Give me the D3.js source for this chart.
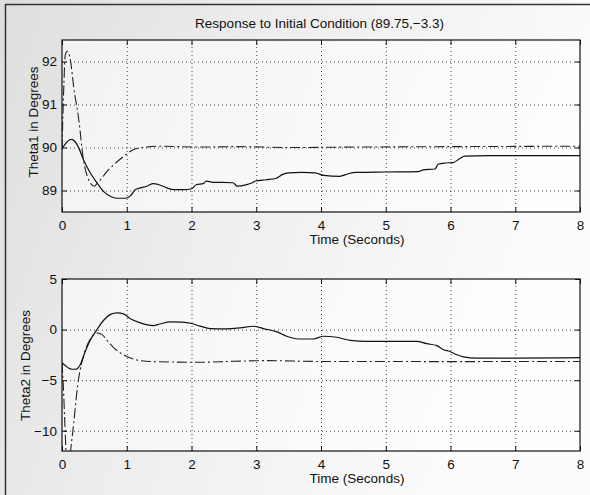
<!DOCTYPE html>
<html>
<head>
<meta charset="utf-8">
<script src="https://cdn.jsdelivr.net/npm/d3@7"></script>
<style>
  html, body { margin: 0; padding: 0; background: #fff; }
  svg { display: block; }
  text { font-family: "Liberation Sans", Arial, Helvetica, sans-serif; fill: #111; }
</style>
</head>
<body>
<svg id="chart" width="590" height="495"></svg>
<script>
// ---------- data ----------
const chartTitle = "Response to Initial Condition (89.75,\u22123.3)";
const xLabel = "Time (Seconds)";
const yLabel1 = "Theta1 in Degrees";
const yLabel2 = "Theta2 in Degrees";

const xTicks = [0, 1, 2, 3, 4, 5, 6, 7, 8];
const yTicks1 = [89, 90, 91, 92];
const yTicks2 = [-10, -5, 0, 5];

// Theta1, solid response
const t1Solid = [0, 0.05, 0.1, 0.15, 0.2, 0.25, 0.33, 0.44, 0.54, 0.64, 0.77, 0.85, 0.98, 1.06, 1.13, 1.21, 1.31, 1.41, 1.49, 1.62, 1.73, 1.88, 2.0, 2.08, 2.18, 2.23, 2.33, 2.48, 2.64, 2.71, 2.84, 2.94, 2.99, 3.15, 3.3, 3.4, 3.5, 3.7, 3.91, 4.04, 4.29, 4.42, 4.55, 5.0, 5.5, 5.58, 5.76, 5.81, 5.92, 6.04, 6.15, 6.22, 6.6, 8.0];
const theta1Solid = [89.97, 90.08, 90.16, 90.19, 90.14, 90.02, 89.72, 89.4, 89.18, 88.98, 88.85, 88.82, 88.82, 88.88, 89.02, 89.06, 89.1, 89.16, 89.14, 89.06, 89.02, 89.02, 89.04, 89.14, 89.16, 89.22, 89.19, 89.19, 89.18, 89.1, 89.13, 89.18, 89.22, 89.25, 89.28, 89.37, 89.41, 89.42, 89.41, 89.35, 89.33, 89.39, 89.42, 89.43, 89.44, 89.48, 89.5, 89.61, 89.64, 89.65, 89.75, 89.8, 89.81, 89.81];

// Theta1, dash-dot response
const t1Dash = [0, 0.03, 0.05, 0.08, 0.13, 0.18, 0.26, 0.33, 0.39, 0.45, 0.5, 0.54, 0.6, 0.67, 0.8, 0.95, 1.1, 1.26, 1.47, 2.15, 2.66, 3.5, 4.5, 6.0, 8.0];
const theta1Dash = [89.95, 91.5, 92.15, 92.24, 92.03, 91.41, 90.64, 89.72, 89.33, 89.15, 89.1, 89.16, 89.26, 89.4, 89.6, 89.79, 89.95, 90.0, 90.03, 90.01, 90.02, 90.0, 90.01, 90.02, 90.03];

// Theta2, solid response
const t2Solid = [0, 0.05, 0.1, 0.15, 0.22, 0.28, 0.36, 0.44, 0.54, 0.64, 0.75, 0.85, 0.95, 1.05, 1.21, 1.41, 1.51, 1.67, 1.85, 2.0, 2.13, 2.29, 2.55, 2.75, 2.96, 3.11, 3.32, 3.47, 3.65, 3.88, 4.04, 4.24, 4.45, 4.71, 5.48, 5.63, 5.79, 5.89, 5.99, 6.1, 6.2, 6.4, 7.0, 8.0];
const theta2Solid = [-3.3, -3.55, -3.8, -3.92, -3.9, -3.5, -2.15, -1.0, 0.0, 0.9, 1.5, 1.65, 1.55, 1.1, 0.66, 0.4, 0.55, 0.76, 0.73, 0.6, 0.35, 0.1, 0.07, 0.17, 0.33, 0.1, -0.23, -0.66, -0.93, -0.93, -0.66, -0.76, -1.06, -1.16, -1.16, -1.39, -1.59, -1.99, -2.16, -2.49, -2.69, -2.82, -2.82, -2.78];

// Theta2, dash-dot response
const t2Dash = [0, 0.02, 0.05, 0.07, 0.1, 0.12, 0.15, 0.18, 0.24, 0.28, 0.33, 0.44, 0.55, 0.62, 0.7, 0.8, 0.9, 1.0, 1.1, 1.21, 1.5, 2.14, 2.65, 3.16, 4.0, 5.0, 6.0, 7.0, 8.0];
const theta2Dash = [-3.3, -5.5, -10.3, -13, -14, -12.8, -11, -9.3, -5.6, -4.0, -2.65, -0.9, -0.35, -0.5, -1.1, -1.8, -2.3, -2.65, -2.9, -3.08, -3.18, -3.23, -3.13, -3.07, -3.15, -3.15, -3.17, -3.15, -3.15];

// ---------- drawing ----------
const svg = d3.select("#chart");
const W = 590, H = 495;

// scanned paper tone
const defs = svg.append("defs");
const grad = defs.append("linearGradient").attr("id", "paper")
  .attr("x1", "0%").attr("y1", "0%").attr("x2", "100%").attr("y2", "30%");
grad.append("stop").attr("offset", "0%").attr("stop-color", "#dedede");
grad.append("stop").attr("offset", "45%").attr("stop-color", "#eeeeee");
grad.append("stop").attr("offset", "100%").attr("stop-color", "#fcfcfc");
svg.append("rect").attr("width", W).attr("height", H).attr("fill", "url(#paper)");

// scan frame edges
svg.append("line").attr("x1", 5).attr("x2", W).attr("y1", 4.5).attr("y2", 4.5)
  .attr("stroke", "#333").attr("stroke-width", 1.5);
svg.append("line").attr("x1", 5.5).attr("x2", 5.5).attr("y1", 4).attr("y2", H)
  .attr("stroke", "#333").attr("stroke-width", 1.5);

const x = d3.scaleLinear().domain([0, 8]).range([62, 580]);

const panels = [
  { t: t1Solid, v: theta1Solid, td: t1Dash, vd: theta1Dash,
    domain: [88.5, 92.5], range: [212, 40], ticks: yTicks1, label: yLabel1,
    labelX: 37.5, labelY: 122, id: "c1" },
  { t: t2Solid, v: theta2Solid, td: t2Dash, vd: theta2Dash,
    domain: [-12, 5], range: [451, 279], ticks: yTicks2, label: yLabel2,
    labelX: 29.5, labelY: 365.5, id: "c2" }
];

const fontSize = 13.5;

panels.forEach(p => {
  const y = d3.scaleLinear().domain(p.domain).range(p.range);
  const top = p.range[1], bottom = p.range[0];
  const left = x.range()[0], right = x.range()[1];
  const g = svg.append("g");

  // plot area
  g.append("rect").attr("x", left).attr("y", top)
    .attr("width", right - left).attr("height", bottom - top)
    .attr("fill", "#fff").attr("fill-opacity", 0.55);

  // grid
  const gx = g.append("g").attr("transform", `translate(0,${bottom})`)
    .call(d3.axisBottom(x).tickValues(xTicks.slice(1, -1)).tickSize(-(bottom - top)).tickFormat(""));
  const gy = g.append("g").attr("transform", `translate(${left},0)`)
    .call(d3.axisLeft(y).tickValues(p.ticks.filter(v => y(v) > top + 2 && y(v) < bottom - 2)).tickSize(-(right - left)).tickFormat(""));
  [gx, gy].forEach(a => {
    a.select(".domain").remove();
    a.selectAll("line").attr("stroke", "#444").attr("stroke-width", 1).attr("stroke-dasharray", "1,3");
  });

  // curves
  defs.append("clipPath").attr("id", p.id).append("rect")
    .attr("x", left).attr("y", top).attr("width", right - left).attr("height", bottom - top);
  const line = d3.line().x(d => x(d[0])).y(d => y(d[1])).curve(d3.curveMonotoneX);
  const solid = p.t.map((t, i) => [t, p.v[i]]);
  const dash = p.td.map((t, i) => [t, p.vd[i]]);
  const cg = g.append("g").attr("clip-path", `url(#${p.id})`);
  cg.append("path").datum(dash).attr("d", line).attr("fill", "none")
    .attr("stroke", "#222").attr("stroke-width", 1.1).attr("stroke-dasharray", "10,3,2,3");
  cg.append("path").datum(solid).attr("d", line).attr("fill", "none")
    .attr("stroke", "#111").attr("stroke-width", 1.2);

  // axes with inward ticks
  const ab = g.append("g").attr("transform", `translate(0,${bottom})`)
    .call(d3.axisBottom(x).tickValues(xTicks).tickSize(-5).tickSizeOuter(0).tickPadding(8).tickFormat(d3.format("d")));
  const at = g.append("g").attr("transform", `translate(0,${top})`)
    .call(d3.axisTop(x).tickValues(xTicks).tickSize(-5).tickSizeOuter(0).tickFormat(""));
  const al = g.append("g").attr("transform", `translate(${left},0)`)
    .call(d3.axisLeft(y).tickValues(p.ticks).tickSize(-5).tickSizeOuter(0).tickPadding(5).tickFormat(d => d3.format("d")(d)));
  const ar = g.append("g").attr("transform", `translate(${right},0)`)
    .call(d3.axisRight(y).tickValues(p.ticks).tickSize(-5).tickSizeOuter(0).tickFormat(""));
  [ab, at, al, ar].forEach(a => {
    a.select(".domain").remove();
    a.selectAll("line").attr("stroke", "#111");
    a.selectAll("text").style("font-size", fontSize + "px").attr("fill", "#111");
  });

  // box
  g.append("rect").attr("x", left).attr("y", top)
    .attr("width", right - left).attr("height", bottom - top)
    .attr("fill", "none").attr("stroke", "#111").attr("stroke-width", 1.2);

  // labels
  g.append("text").attr("x", 357).attr("y", bottom + 31.5)
    .attr("text-anchor", "middle").style("font-size", fontSize + "px").text(xLabel);
  g.append("text").attr("transform", `translate(${p.labelX},${p.labelY}) rotate(-90)`)
    .attr("text-anchor", "middle").style("font-size", fontSize + "px").text(p.label);
});

svg.append("text").attr("x", 319.5).attr("y", 27.5).attr("text-anchor", "middle")
  .style("font-size", fontSize + "px").text(chartTitle);
</script>
</body>
</html>
